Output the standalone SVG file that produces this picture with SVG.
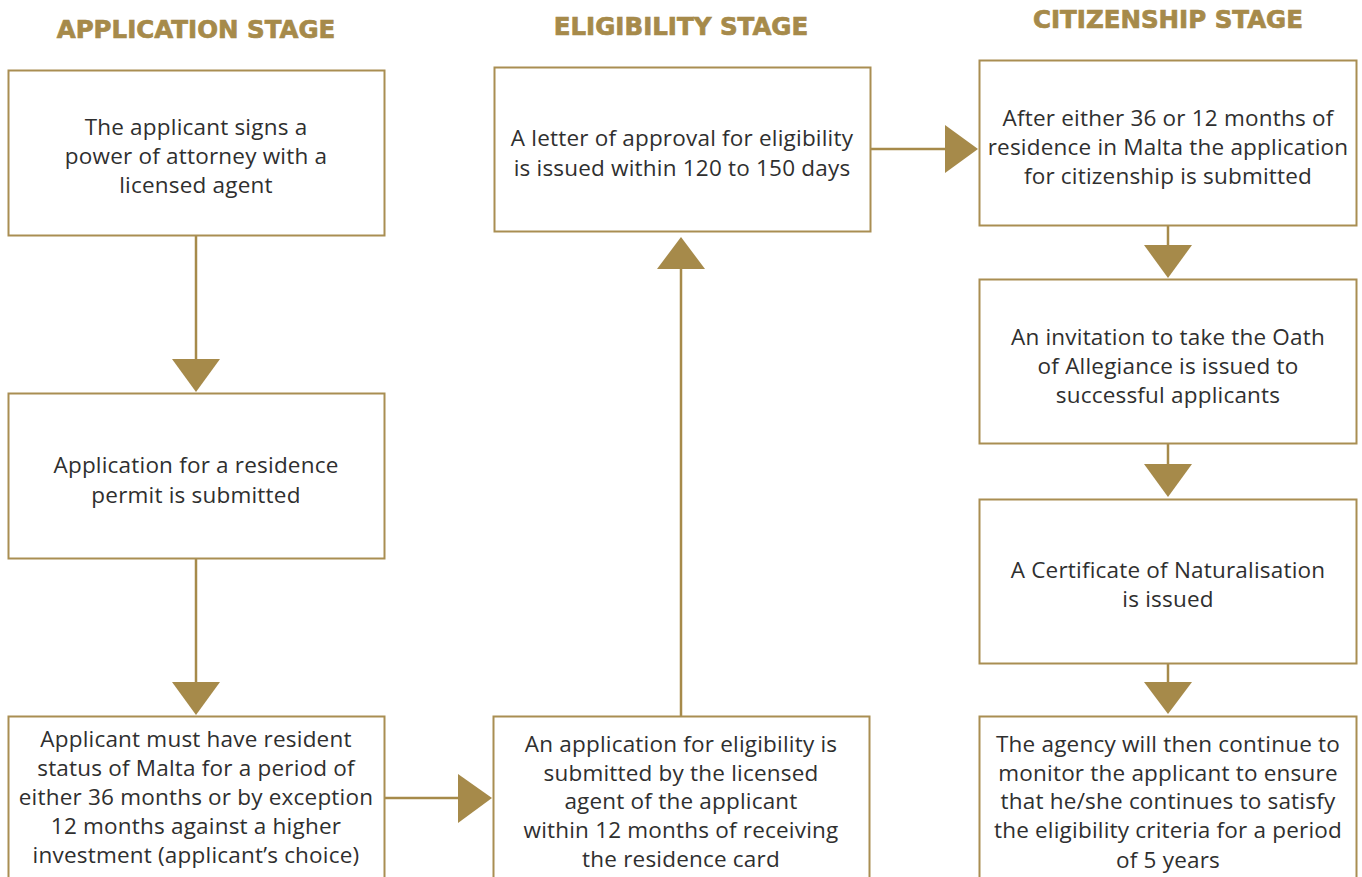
<svg xmlns="http://www.w3.org/2000/svg" width="1362" height="877" viewBox="0 0 1362 877">
<style>
.h{font-family:"DejaVu Sans",sans-serif;font-weight:bold;font-size:24.5px;fill:#a68a4a;stroke:#a68a4a;stroke-width:0.7;text-anchor:middle}
.t{font-family:"Open Sans","Liberation Sans",sans-serif;font-size:22.5px;letter-spacing:0.2px;fill:#2f2f2f;text-anchor:middle}
.box{fill:#ffffff;stroke:#a98e52;stroke-width:2}
.ln{stroke:#a68a4a;stroke-width:2.5;fill:none}
.ah{fill:#a68a4a}
</style>
<rect width="1362" height="877" fill="#ffffff"/>
<g id="headings">
<text class="h" x="196" y="38">APPLICATION STAGE</text>
<text class="h" x="681" y="35">ELIGIBILITY STAGE</text>
<text class="h" x="1168" y="28">CITIZENSHIP STAGE</text>
</g>
<g id="connectors">
<line class="ln" x1="196" y1="236" x2="196" y2="360"/>
<polygon class="ah" points="172,359 220,359 196,392"/>
<line class="ln" x1="196" y1="559" x2="196" y2="683"/>
<polygon class="ah" points="172,682 220,682 196,715"/>
<line class="ln" x1="385" y1="798" x2="459" y2="798"/>
<polygon class="ah" points="458,774 458,823 492,798"/>
<line class="ln" x1="681" y1="716" x2="681" y2="268"/>
<polygon class="ah" points="657,269 705,269 681,237"/>
<line class="ln" x1="871" y1="149" x2="946" y2="149"/>
<polygon class="ah" points="945,125 945,173 978,149"/>
<line class="ln" x1="1168" y1="226" x2="1168" y2="246"/>
<polygon class="ah" points="1144,245 1192,245 1168,278"/>
<line class="ln" x1="1168" y1="444" x2="1168" y2="465"/>
<polygon class="ah" points="1144,464 1192,464 1168,497"/>
<line class="ln" x1="1168" y1="663" x2="1168" y2="683"/>
<polygon class="ah" points="1144,682 1192,682 1168,714"/>
</g>
<g id="node-a1">
<rect class="box" x="8.5" y="70.5" width="376" height="165"/>
<text class="t" x="196" y="135">The applicant signs a</text>
<text class="t" x="196" y="164">power of attorney with a</text>
<text class="t" x="196" y="193">licensed agent</text>
</g>
<g id="node-a2">
<rect class="box" x="8.5" y="393.5" width="376" height="165"/>
<text class="t" x="196" y="473">Application for a residence</text>
<text class="t" x="196" y="503">permit is submitted</text>
</g>
<g id="node-a3">
<rect class="box" x="8.5" y="716.5" width="376" height="170"/>
<text class="t" x="196" y="747">Applicant must have resident</text>
<text class="t" x="196" y="776">status of Malta for a period of</text>
<text class="t" x="196" y="805">either 36 months or by exception</text>
<text class="t" x="196" y="834">12 months against a higher</text>
<text class="t" x="196" y="863">investment (applicant’s choice)</text>
</g>
<g id="node-e1">
<rect class="box" x="494.5" y="67.5" width="376" height="164"/>
<text class="t" x="682" y="146">A letter of approval for eligibility</text>
<text class="t" x="682" y="176">is issued within 120 to 150 days</text>
</g>
<g id="node-e2">
<rect class="box" x="493.5" y="716.5" width="376" height="170"/>
<text class="t" x="681" y="752">An application for eligibility is</text>
<text class="t" x="681" y="781">submitted by the licensed</text>
<text class="t" x="681" y="809">agent of the applicant</text>
<text class="t" x="681" y="838">within 12 months of receiving</text>
<text class="t" x="681" y="867">the residence card</text>
</g>
<g id="node-c1">
<rect class="box" x="979.5" y="60.5" width="377" height="165"/>
<text class="t" x="1168" y="126">After either 36 or 12 months of</text>
<text class="t" x="1168" y="155">residence in Malta the application</text>
<text class="t" x="1168" y="184">for citizenship is submitted</text>
</g>
<g id="node-c2">
<rect class="box" x="979.5" y="279.5" width="377" height="164"/>
<text class="t" x="1168" y="345">An invitation to take the Oath</text>
<text class="t" x="1168" y="374">of Allegiance is issued to</text>
<text class="t" x="1168" y="403">successful applicants</text>
</g>
<g id="node-c3">
<rect class="box" x="979.5" y="499.5" width="377" height="164"/>
<text class="t" x="1168" y="578">A Certificate of Naturalisation</text>
<text class="t" x="1168" y="607">is issued</text>
</g>
<g id="node-c4">
<rect class="box" x="979.5" y="716.5" width="377" height="170"/>
<text class="t" x="1168" y="752">The agency will then continue to</text>
<text class="t" x="1168" y="781">monitor the applicant to ensure</text>
<text class="t" x="1168" y="809">that he/she continues to satisfy</text>
<text class="t" x="1168" y="838">the eligibility criteria for a period</text>
<text class="t" x="1168" y="868">of 5 years</text>
</g>
</svg>
